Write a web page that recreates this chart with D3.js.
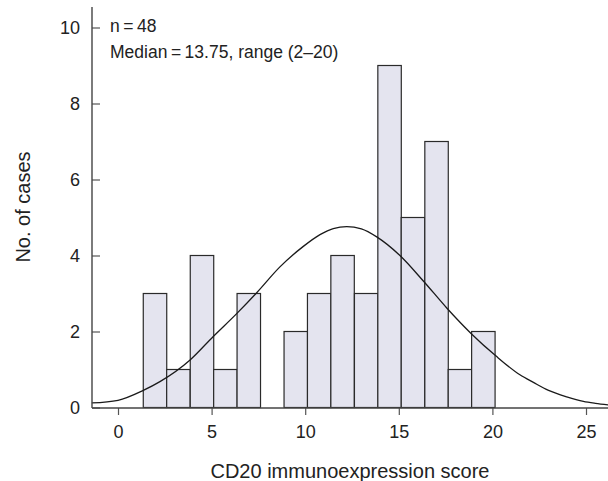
<!DOCTYPE html>
<html>
<head>
<meta charset="utf-8">
<script src="https://cdn.jsdelivr.net/npm/d3@7"></script>
<style>
  body { margin: 0; background: #fff; }
  text { font-family: "Liberation Sans", Arial, sans-serif; fill: #222; }
</style>
</head>
<body>
<div id="chart"></div>
<script>
// histogram bins (left edge of each bin, in score units) and counts
const BIN_LEFT = [1.35, 2.60, 3.86, 5.11, 6.36, 7.62, 8.87, 10.12, 11.37, 12.63, 13.88, 15.13, 16.39, 17.64, 18.89];
const BIN_WIDTH = 1.253;
const COUNTS = [3, 1, 4, 1, 3, 0, 2, 3, 4, 3, 9, 5, 7, 1, 2];

// fitted normal curve
const CURVE_X = [-1.4, 0, 1.35, 2.24, 3.85, 5.09, 6.34, 7.41, 8.65, 9.9, 10.79, 11.5, 12.22, 13.0, 13.82, 15.06, 16.31, 17.56, 18.9, 20.18, 21.47, 22.19, 23.0, 23.97, 24.86, 25.5, 26.2];
const CURVE_Y = [0.12, 0.19, 0.45, 0.68, 1.25, 1.87, 2.47, 3.02, 3.70, 4.24, 4.55, 4.71, 4.76, 4.70, 4.49, 4.00, 3.33, 2.62, 1.93, 1.36, 0.86, 0.66, 0.45, 0.28, 0.16, 0.11, 0.07];

const X_TICKS = [0, 5, 10, 15, 20, 25];
const Y_TICKS = [0, 2, 4, 6, 8, 10];
const NOTES = ["n\u2009=\u200948", "Median\u2009=\u200913.75, range (2\u201320)"];

const FRAME_WIDTH = 608;
const FRAME_HEIGHT = 481;

const FRAME = d3.select("#chart")
  .append("svg")
    .attr("width", FRAME_WIDTH)
    .attr("height", FRAME_HEIGHT);

// scales: 0 sits at x=118, 18.72 px per unit; 0 count at y=407.5, 38 px per unit
const X_SCALE = d3.scaleLinear()
  .domain([-1.389, 26.175])
  .range([92, 608]);

const Y_SCALE = d3.scaleLinear()
  .domain([0, 10])
  .range([407.5, 27.5]);

// bars
const bins = BIN_LEFT.map((x0, i) => ({x0: x0, x1: x0 + BIN_WIDTH, n: COUNTS[i]}));

FRAME.append("g")
  .selectAll("rect")
  .data(bins.filter(d => d.n > 0))
  .join("rect")
    .attr("x", d => X_SCALE(d.x0))
    .attr("y", d => Y_SCALE(d.n))
    .attr("width", d => X_SCALE(d.x1) - X_SCALE(d.x0))
    .attr("height", d => Y_SCALE(0) - Y_SCALE(d.n))
    .attr("fill", "#e4e4ef")
    .attr("stroke", "#2a2a2a")
    .attr("stroke-width", 1.2);

// normal curve
const curve = CURVE_X.map((x, i) => [x, CURVE_Y[i]]);

FRAME.append("path")
  .datum(curve)
  .attr("fill", "none")
  .attr("stroke", "#1a1a1a")
  .attr("stroke-width", 1.3)
  .attr("d", d3.line()
    .x(d => X_SCALE(d[0]))
    .y(d => Y_SCALE(d[1]))
    .curve(d3.curveMonotoneX));

// x axis
const xAxis = FRAME.append("g")
  .attr("transform", "translate(0,408)")
  .call(d3.axisBottom(X_SCALE).tickValues(X_TICKS).tickSize(7).tickPadding(10));
xAxis.select(".domain").remove();
xAxis.selectAll("line").attr("stroke", "#555").attr("stroke-width", 1.2);
xAxis.selectAll("text").attr("font-size", "18px").attr("fill", "#222");

// y axis, ticks point inward
const yAxis = FRAME.append("g")
  .attr("transform", "translate(92,0)")
  .call(d3.axisLeft(Y_SCALE).tickValues(Y_TICKS).tickSize(-8).tickPadding(12));
yAxis.select(".domain").remove();
yAxis.selectAll("line").attr("stroke", "#555").attr("stroke-width", 1.2);
yAxis.selectAll("text").attr("font-size", "18px").attr("fill", "#222");

// axis lines
FRAME.append("line")
  .attr("x1", 92).attr("x2", 92)
  .attr("y1", 7).attr("y2", 408)
  .attr("stroke", "#444").attr("stroke-width", 1.4);

FRAME.append("line")
  .attr("x1", 92).attr("x2", 608)
  .attr("y1", 408).attr("y2", 408)
  .attr("stroke", "#444").attr("stroke-width", 1.4);

// annotation
FRAME.append("text")
  .attr("x", 110).attr("y", 32)
  .attr("font-size", "17.5px")
  .text(NOTES[0]);

FRAME.append("text")
  .attr("x", 110).attr("y", 58)
  .attr("font-size", "17.5px")
  .text(NOTES[1]);

// axis titles
FRAME.append("text")
  .attr("x", 350).attr("y", 478)
  .attr("text-anchor", "middle")
  .attr("font-size", "20px")
  .text("CD20 immunoexpression score");

FRAME.append("text")
  .attr("transform", "translate(30,207) rotate(-90)")
  .attr("text-anchor", "middle")
  .attr("font-size", "20px")
  .text("No. of cases");
</script>
</body>
</html>
